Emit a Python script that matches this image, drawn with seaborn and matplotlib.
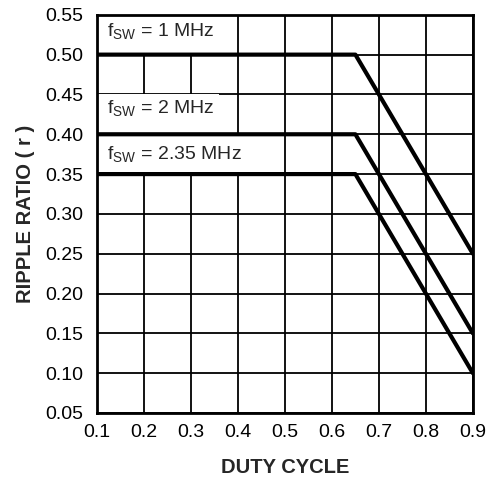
import numpy as np
import pandas as pd
import matplotlib
matplotlib.use('Agg')
import matplotlib.pyplot as plt
import seaborn as sns

# Data
duty = [0.1, 0.65, 0.9]
r_1mhz = [0.50, 0.50, 0.25]
r_2mhz = [0.40, 0.40, 0.15]
r_235mhz = [0.35, 0.35, 0.10]
series_names = ['1 MHz', '2 MHz', '2.35 MHz']
xticks = [0.1, 0.2, 0.3, 0.4, 0.5, 0.6, 0.7, 0.8, 0.9]
yticks = [0.05, 0.10, 0.15, 0.20, 0.25, 0.30, 0.35, 0.40, 0.45, 0.50, 0.55]

# label placement (baseline) and the white cell behind each label
label_y = [0.522, 0.426, 0.368]
label_band = [(0.50, 0.55, 0.36), (0.40, 0.45, 0.36), (0.35, 0.40, 0.41)]

df = pd.DataFrame({
    'duty': duty * 3,
    'r': r_1mhz + r_2mhz + r_235mhz,
    'fsw': [n for n in series_names for _ in duty],
})

sns.set_theme(style='white')
plt.rcParams['font.family'] = ['Liberation Sans', 'DejaVu Sans']
plt.rcParams['mathtext.fontset'] = 'custom'
plt.rcParams['mathtext.rm'] = 'Liberation Sans'

fig = plt.figure(figsize=(4.9, 4.78), dpi=100)
ax = fig.add_axes([0.198, 0.136, 0.767, 0.833])

sns.lineplot(data=df, x='duty', y='r', units='fsw', estimator=None,
             color='black', lw=3.0, ax=ax, legend=False, zorder=3)

ax.set_xlim(0.1, 0.9)
ax.set_ylim(0.05, 0.55)
ax.set_xticks(xticks)
ax.set_yticks(yticks)
ax.set_xticklabels([f'{v:.1f}' for v in xticks])
ax.set_yticklabels([f'{v:.2f}' for v in yticks])
ax.grid(True, color='black', lw=1.3)
ax.set_axisbelow(True)
for s in ax.spines.values():
    s.set_color('black')
    s.set_linewidth(2.0)
ax.tick_params(labelsize=14, length=0, colors='black')
ax.tick_params(axis='y', pad=10)
ax.tick_params(axis='x', pad=8)

ax.set_xlabel('DUTY CYCLE', fontsize=14.5, fontweight='bold')
ax.set_ylabel('RIPPLE RATIO ( r )', fontsize=14.5, fontweight='bold')
ax.xaxis.set_label_coords(0.5, -0.138)
ax.yaxis.set_label_coords(-0.189, 0.5)
ax.xaxis.label.set_va('center')
ax.yaxis.label.set_va('center')

for name, y, (y0, y1, xr) in zip(series_names, label_y, label_band):
    ax.axhspan(y0, y1, xmin=0, xmax=(xr - 0.1) / 0.8, facecolor='white',
               edgecolor='none', zorder=1)
    ax.text(0.122, y, r'f$_{\mathregular{SW}}$ = ' + name, fontsize=14,
            va='baseline', ha='left', zorder=4)

fig.savefig('out.png', dpi=100)
